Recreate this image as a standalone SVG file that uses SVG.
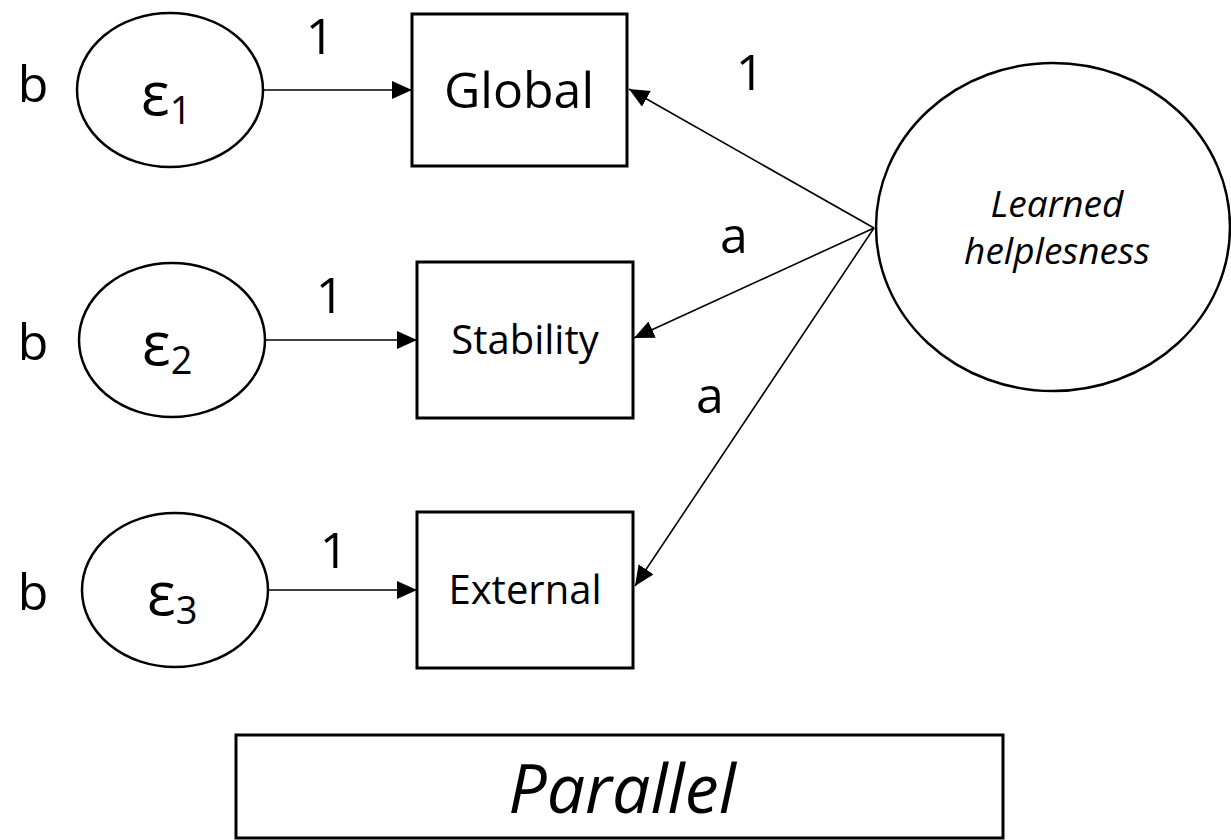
<svg xmlns="http://www.w3.org/2000/svg" width="1231" height="840" viewBox="0 0 1231 840">
  <style>
    .bg { fill: #ffffff; }
    .node { fill: #ffffff; stroke: #000000; stroke-width: 3; }
    .oval { fill: #ffffff; stroke: #000000; stroke-width: 2.5; }
    .edge { fill: none; stroke: #000000; stroke-width: 1.6; }
    .lbl { font-family: "Open Sans", "Liberation Sans", sans-serif; fill: #000000; }
    .big { font-size: 50px; }
    .mid { font-size: 40px; }
    .eps { font-size: 60px; }
    .sub { font-size: 38px; }
    .it { font-style: italic; }
  </style>
  <defs>
    <marker id="arrow" markerUnits="userSpaceOnUse" markerWidth="22" markerHeight="20" refX="20" refY="9" orient="auto">
      <path d="M0,0 L20,9 L0,18 Z" fill="#000000"/>
    </marker>
  </defs>

  <rect class="bg" x="0" y="0" width="1231" height="840"/>

  <!-- connectors -->
  <g id="connectors">
    <line class="edge" x1="263" y1="90" x2="412" y2="90" marker-end="url(#arrow)"/>
    <line class="edge" x1="265" y1="340" x2="417" y2="340" marker-end="url(#arrow)"/>
    <line class="edge" x1="268" y1="590" x2="417" y2="590" marker-end="url(#arrow)"/>
    <line class="edge" x1="874" y1="228" x2="629" y2="89" marker-end="url(#arrow)"/>
    <line class="edge" x1="874" y1="228" x2="634" y2="338" marker-end="url(#arrow)"/>
    <line class="edge" x1="874" y1="228" x2="635" y2="586" marker-end="url(#arrow)"/>
  </g>

  <!-- error terms -->
  <g id="e1">
    <ellipse class="oval" cx="170" cy="90" rx="93" ry="77"/>
    <text class="lbl eps" x="141" y="115">ε<tspan class="sub" dy="9">1</tspan></text>
  </g>
  <g id="e2">
    <ellipse class="oval" cx="172" cy="340" rx="93" ry="77"/>
    <text class="lbl eps" x="142" y="365">ε<tspan class="sub" dy="9">2</tspan></text>
  </g>
  <g id="e3">
    <ellipse class="oval" cx="175" cy="590" rx="93" ry="77"/>
    <text class="lbl eps" x="147" y="615">ε<tspan class="sub" dy="9">3</tspan></text>
  </g>

  <!-- observed indicators -->
  <g id="global">
    <rect class="node" x="412" y="14" width="215" height="152"/>
    <text class="lbl big" x="519" y="108" text-anchor="middle">Global</text>
  </g>
  <g id="stability">
    <rect class="node" x="417" y="262" width="216" height="156"/>
    <text class="lbl mid" x="525" y="354" text-anchor="middle">Stability</text>
  </g>
  <g id="external">
    <rect class="node" x="417" y="512" width="216" height="156"/>
    <text class="lbl mid" x="525" y="604" text-anchor="middle">External</text>
  </g>

  <!-- latent factor -->
  <g id="learned-helplessness">
    <ellipse class="oval" cx="1053" cy="227" rx="177" ry="164"/>
    <text class="lbl it" font-size="37" x="1057" y="217" text-anchor="middle">Learned</text>
    <text class="lbl it" font-size="37" x="1057" y="264" text-anchor="middle">helplesness</text>
  </g>

  <!-- path labels -->
  <g id="labels">
    <text class="lbl big" x="33" y="102" text-anchor="middle">b</text>
    <text class="lbl big" x="33" y="360" text-anchor="middle">b</text>
    <text class="lbl big" x="33" y="610" text-anchor="middle">b</text>
    <text class="lbl big" x="320" y="54" text-anchor="middle">1</text>
    <text class="lbl big" x="330" y="313" text-anchor="middle">1</text>
    <text class="lbl big" x="334" y="568" text-anchor="middle">1</text>
    <text class="lbl big" x="750" y="90" text-anchor="middle">1</text>
    <text class="lbl big" x="734" y="253" text-anchor="middle">a</text>
    <text class="lbl big" x="710" y="413" text-anchor="middle">a</text>
  </g>

  <!-- model caption -->
  <g id="caption">
    <rect class="node" x="236" y="735" width="767" height="103"/>
    <text class="lbl it" font-size="68" x="622" y="813" text-anchor="middle">Parallel</text>
  </g>
</svg>
